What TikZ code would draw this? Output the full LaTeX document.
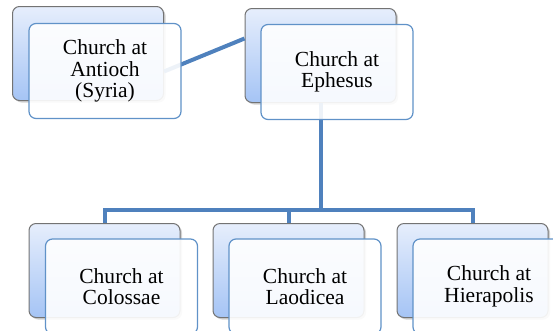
\documentclass[tikz,border=0pt]{standalone}
\usepackage{amssymb,amsmath}
\usepackage{fontspec}
\setmainfont{Liberation Serif}
\usepackage[usenames,dvipsnames]{xcolor}
\usepackage{tikz}
\usetikzlibrary{shadows}

\definecolor{linkblue}{RGB}{79,129,189}
\definecolor{frontedge}{RGB}{96,146,200}
\definecolor{backtop}{RGB}{230,238,252}
\definecolor{backbottom}{RGB}{165,196,245}

\tikzset{
  backbox/.style={draw=black!55, line width=1pt, rounded corners=7pt,
    top color=backtop, bottom color=backbottom,
    drop shadow={shadow xshift=2pt, shadow yshift=-2pt, opacity=0.35},
    minimum width=151pt, minimum height=94pt, inner sep=0pt},
  frontbox/.style={draw=frontedge, line width=1.2pt, rounded corners=7pt,
    fill=white, fill opacity=0.9, text opacity=1,
    minimum width=152pt, minimum height=95pt, inner sep=0pt,
    align=center, font=\fontsize{21.5}{21.5}\selectfont},
  link/.style={draw=linkblue, line width=4pt}
}

\begin{document}
\begin{tikzpicture}[x=1pt,y=-1pt]
 \path[use as bounding box] (0,0) rectangle (553,330);

% back boxes
\node[backbox] (antiochback) at (88,53.5) {};
\node[backbox] (ephesusback) at (320.5,55.5) {};
\foreach \name/\x in {colossae/104.5, laodicea/288.5, hierapolis/472.5}
	\node[backbox] (\name back) at (\x,270.5) {};

% connectors
\draw[link] ([yshift=-18pt]antiochback.east) -- ([yshift=17pt]ephesusback.west);
\coordinate (hub) at (ephesusback.south |- 0,210);
\draw[link] (ephesusback.south) -- (hub);
\draw[link] (colossaeback.north) |- (hub) -| (hierapolisback.north);
\draw[link] (laodiceaback.north) -- (laodiceaback.north |- hub);

% front boxes
\node[frontbox] (antioch) at (105,71) {Church at\\Antioch\\(Syria)};
\node[frontbox] (ephesus) at (337,72) {Church at\\Ephesus};
\node[frontbox] (colossae) at (121.5,286.5) {Church at\\Colossae};
\node[frontbox] (laodicea) at (305,286.5) {Church at\\Laodicea};
\node[frontbox] (hierapolis) at (489,286.5) {Church at\\Hierapolis};

\end{tikzpicture}
\end{document}
